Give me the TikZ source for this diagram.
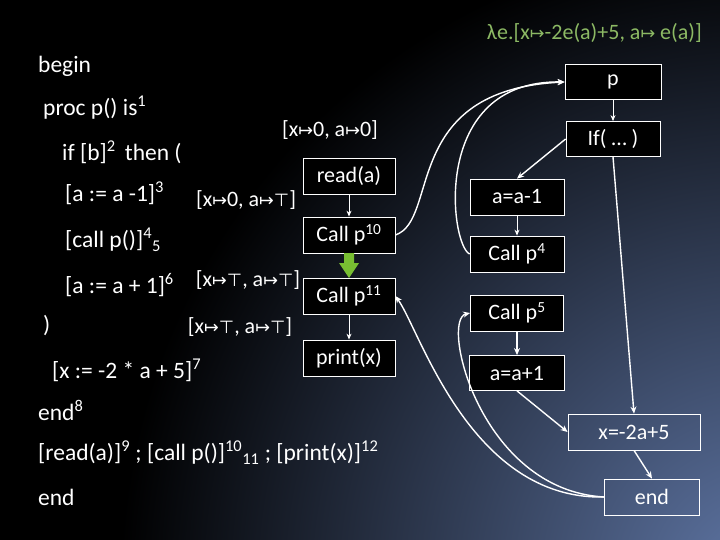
\documentclass[tikz,border=0pt]{standalone}
\usepackage{fontspec}
\setmainfont{Carlito}
\newfontfamily\sym{DejaVu Sans}
\newcommand{\mt}{{\sym\scalebox{0.8}{↦}}}
\newcommand{\tp}{{\sym\scalebox{0.8}{⊤}}}
\usetikzlibrary{arrows.meta}
\definecolor{bgblue}{RGB}{95,118,165}
\definecolor{lamgreen}{RGB}{140,185,100}
\definecolor{arrgreen}{RGB}{120,190,50}
\begin{document}
\begin{tikzpicture}[x=1pt,y=-1pt,
  box/.style={draw=white,line width=0.8pt,fill=black,text=white,font=\fontsize{22}{24}\selectfont,inner sep=0pt},
  code/.style={anchor=west,text=white,font=\fontsize{23.5}{26}\selectfont,inner sep=0pt},
  ann/.style={text=white,font=\fontsize{22}{24}\selectfont,inner sep=0pt},
  arr/.style={draw=white,line width=1.4pt,-{Stealth[length=7pt,width=6pt]}},
  flow/.style={draw=white,line width=0.8pt,-{Stealth[length=6pt,width=5pt]}}]
\useasboundingbox (0,0) rectangle (720,540);
\fill[black] (0,0) rectangle (720,540);
\begin{scope}
\clip (0,0) rectangle (720,540);
\shade[inner color=bgblue,outer color=black] (760,580) circle (640);
\end{scope}
% code
\node[code] (t1) at (38,66) {begin};
\node[code] (t2) at (43,108) {proc p() is\textsuperscript{1}};
\node[code] (t3) at (62,152) {if [b]\textsuperscript{2}\, then (};
\node[code] (t4) at (65,193) {[a := a -1]\textsuperscript{3}};
\node[code] (t5) at (65,240) {[call p()]\textsuperscript{4}\textsubscript{5}};
\node[code] (t6) at (65,285) {[a := a + 1]\textsuperscript{6}};
\node[code] (t7) at (43,326) {)};
\node[code] (t8) at (52,370) {[x := -2 * a + 5]\textsuperscript{7}};
\node[code] (t9) at (38,410) {end\textsuperscript{8}};
\node[code] (t10) at (38,453) {[read(a)]\textsuperscript{9} ; [call p()]\textsuperscript{10}\textsubscript{11} ; [print(x)]\textsuperscript{12}};
\node[code] (t11) at (38,497) {end};
% annotations
\node[ann] (a1) at (330,130) {[x\mt0, a\mt0]};
\node[ann] (a2) at (246,200) {[x\mt0, a\mt\tp]};
\node[ann] (a3) at (248,280) {[x\mt\tp, a\mt\tp]};
\node[ann] (a4) at (240,327) {[x\mt\tp, a\mt\tp]};
\node[ann,text=lamgreen,anchor=east] (lam) at (702,33) {λe.[x\mt-2e(a)+5, a\mt\ e(a)]};
% left flow
\node[box,minimum width=92pt,minimum height=36pt] (rd) at (349,176) {read(a)};
\node[box,minimum width=92pt,minimum height=36pt] (c10) at (349,235) {Call p\textsuperscript{10}};
\node[box,minimum width=92pt,minimum height=36pt] (c11) at (349,296) {Call p\textsuperscript{11}};
\node[box,minimum width=92pt,minimum height=36pt] (pr) at (349,358) {print(x)};
\draw[flow] (rd) -- (c10);
\draw[flow] (c11) -- (pr);
\draw[draw=none,fill=arrgreen] (344,253) -- (354,253) -- (354,263) -- (359,263) -- (349,278) -- (339,263) -- (344,263) -- cycle;
% right flow
\node[box,minimum width=96pt,minimum height=35pt] (p) at (613,82) {p};
\node[box,minimum width=94pt,minimum height=35pt] (if) at (613,139) {If( … )};
\node[box,minimum width=94pt,minimum height=36pt] (am) at (517,197) {a=a-1};
\node[box,minimum width=94pt,minimum height=36pt] (c4) at (517,254) {Call p\textsuperscript{4}};
\node[box,minimum width=93pt,minimum height=36pt] (c5) at (517,313) {Call p\textsuperscript{5}};
\node[box,minimum width=95pt,minimum height=35pt] (ap) at (517,373) {a=a+1};
\node[box,minimum width=132pt,minimum height=36pt,fill=none] (x) at (634,432) {x=-2a+5};
\node[box,minimum width=95pt,minimum height=36pt,fill=none] (en) at (652,497) {end};
\draw[flow] (p) -- (if);
\draw[arr] (if.west) -- (am.north);
\draw[flow] (am) -- (c4);
\draw[arr] (c5) -- (ap);
\draw[arr] (ap.south) -- (x.west);
\draw[arr] (if.south) -- (x.north);
\draw[arr] (x.south) -- (en.north);
\draw[arr] (c10.east) .. controls (440,220) and (400,90) .. (p.west);
\draw[arr] (c4.west) .. controls (450,245) and (430,80) .. (p.west);
\draw[arr] (en.west) .. controls (470,500) and (420,330) .. (c11.east);
\draw[arr] (en.west) .. controls (480,490) and (440,320) .. (c5.west);
\end{tikzpicture}
\end{document}
